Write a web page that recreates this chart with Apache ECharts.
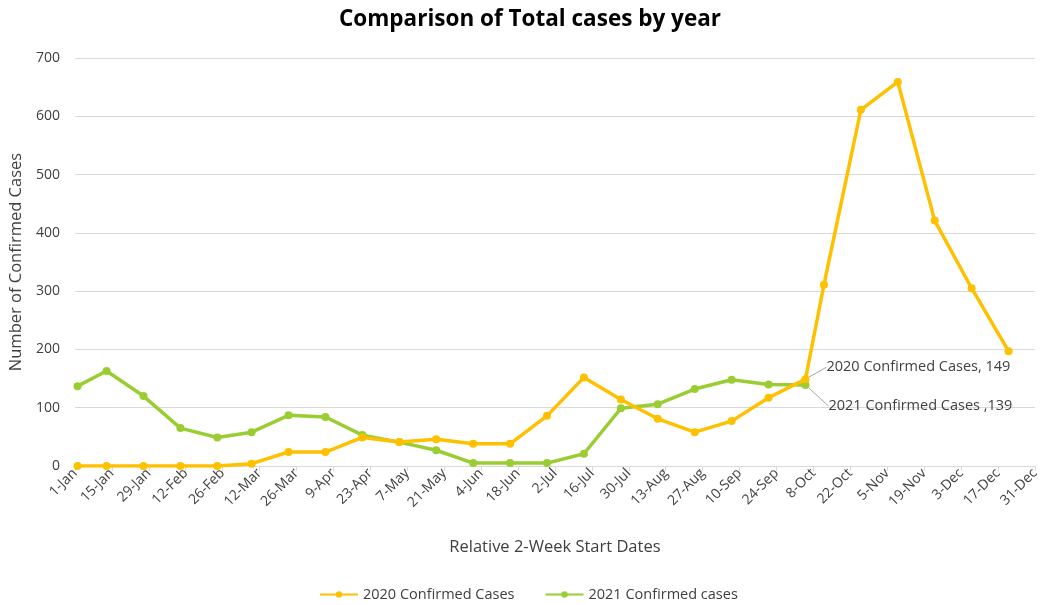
<!DOCTYPE html>
<html>
<head>
<meta charset="utf-8">
<script src="https://cdn.jsdelivr.net/npm/echarts@6/dist/echarts.min.js"></script>
<style>
  html, body { margin: 0; padding: 0; background: #fff; }
  #chart { width: 1042px; height: 605px; }
</style>
</head>
<body>
<div id="chart"></div>
<script>
// x 轴刻度标签（每 14 天一个）
const tickLabels = ['1-Jan','15-Jan','29-Jan','12-Feb','26-Feb','12-Mar','26-Mar','9-Apr','23-Apr','7-May',
  '21-May','4-Jun','18-Jun','2-Jul','16-Jul','30-Jul','13-Aug','27-Aug','10-Sep','24-Sep','8-Oct',
  '22-Oct','5-Nov','19-Nov','3-Dec','17-Dec','31-Dec'];
// 数据点位置：距 1-Jan 的天数
const dayOffsets = [1,12,26,40,54,67,81,95,109,123,137,151,165,179,193,207,221,235,249,263,277,
  284,298,312,326,340,354];
const cases2020 = [0,0,0,0,0,4,24,24,49,41,46,38,38,86,152,114,81,58,77,117,149,311,611,659,421,305,197];
const cases2021 = [137,163,120,65,49,58,87,84,53,41,27,5,5,5,21,99,106,132,148,140,139];

const FONT = 'Open Sans';
const TXT = '#404040';
const GRID = '#d9d9d9';

function pairs(vals) {
  return vals.map((v, i) => [dayOffsets[i], v]);
}

// 只给 8-Oct 那个点加标签
const labelIdx = 20;

const chart = echarts.init(document.getElementById('chart'));
chart.setOption({
  animation: false,
  textStyle: { fontFamily: FONT },
  title: {
    text: 'Comparison of Total cases by year',
    left: 525,
    textAlign: 'center',
    top: 3,
    textStyle: { fontFamily: FONT, fontSize: 22.5, fontWeight: 'bold', color: '#000' }
  },
  grid: { left: 73, right: 2, top: 58, bottom: 139 },
  legend: {
    top: 582,
    left: 314,
    itemWidth: 38,
    itemHeight: 8,
    itemGap: 30,
    textStyle: { fontFamily: FONT, fontSize: 14.5, color: TXT },
    data: ['2020 Confirmed Cases', '2021 Confirmed cases']
  },
  xAxis: {
    type: 'value',
    min: 0,
    max: 364,
    interval: 14,
    name: 'Relative 2-Week Start Dates',
    nameLocation: 'middle',
    nameGap: 73,
    nameTextStyle: { fontFamily: FONT, fontSize: 16.5, color: TXT },
    axisLine: { show: true, lineStyle: { color: GRID } },
    axisTick: { show: true, length: 5, lineStyle: { color: GRID } },
    splitLine: { show: false },
    axisLabel: {
      rotate: 45,
      fontFamily: FONT,
      fontSize: 14,
      color: TXT,
      margin: 5,
      formatter: v => tickLabels[Math.round(v / 14)]
    }
  },
  yAxis: {
    type: 'value',
    min: 0,
    max: 700,
    interval: 100,
    name: 'Number of Confirmed Cases',
    nameLocation: 'middle',
    nameGap: 46,
    nameTextStyle: { fontFamily: FONT, fontSize: 16.5, color: TXT },
    axisLine: { show: false },
    axisTick: { show: false },
    splitLine: { lineStyle: { color: GRID } },
    axisLabel: { fontFamily: FONT, fontSize: 14, color: TXT, margin: 15 }
  },
  series: [
    {
      name: '2020 Confirmed Cases',
      type: 'line',
      data: pairs(cases2020),
      color: '#FFC000',
      symbol: 'circle',
      symbolSize: 8,
      lineStyle: { width: 3.5 },
      z: 3,
      label: {
        show: true,
        position: 'right',
        distance: 0,
        fontFamily: FONT,
        fontSize: 14.5,
        color: TXT,
        formatter: p => p.dataIndex === labelIdx ? p.seriesName + ', ' + p.value[1] : ''
      },
      labelLayout: p => p.dataIndex === labelIdx ? { dx: 17, dy: -12 } : null,
      labelLine: { show: true, lineStyle: { color: '#a6a6a6', width: 1 } }
    },
    {
      name: '2021 Confirmed cases',
      type: 'line',
      data: pairs(cases2021),
      color: '#9ACD32',
      symbol: 'circle',
      symbolSize: 8,
      lineStyle: { width: 3.5 },
      z: 2,
      label: {
        show: true,
        position: 'right',
        distance: 0,
        fontFamily: FONT,
        fontSize: 14.5,
        color: TXT,
        formatter: p => p.dataIndex === labelIdx ? '2021 Confirmed Cases ,' + p.value[1] : ''
      },
      labelLayout: p => p.dataIndex === labelIdx ? { dx: 19, dy: 21 } : null,
      labelLine: { show: true, lineStyle: { color: '#a6a6a6', width: 1 } }
    }
  ]
});
</script>
</body>
</html>
